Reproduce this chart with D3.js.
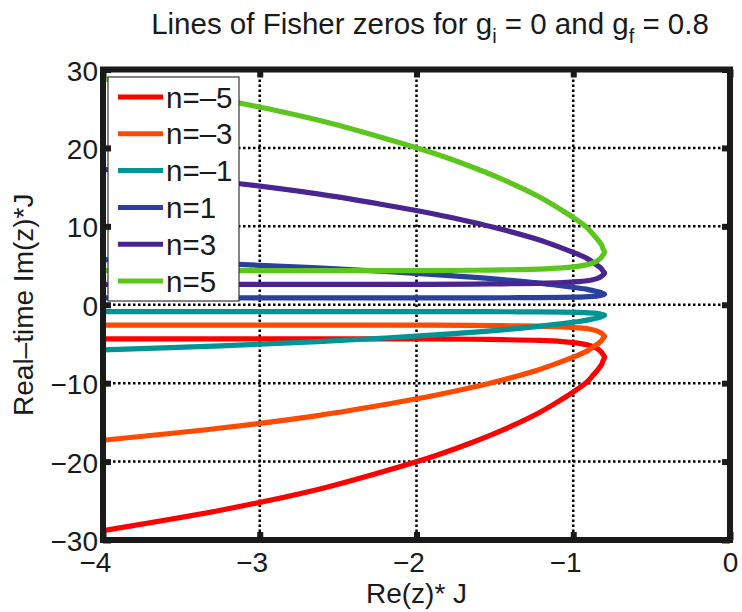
<!DOCTYPE html>
<html>
<head>
<meta charset="utf-8">
<script src="https://cdn.jsdelivr.net/npm/d3@7"></script>
<style>
  html, body { margin: 0; padding: 0; background: #fff; }
  svg { display: block; font-family: "Liberation Sans", Arial, Helvetica, sans-serif; }
</style>
</head>
<body>
<svg id="chart" width="742" height="612"></svg>
<script>
// Re(z)*J along each line of zeros (shared by all n, ordered along the curve)
const reZ = [-4.00, -3.25, -2.63, -2.20, -1.88, -1.65, -1.47, -1.23, -1.08, -0.98, -0.91, -0.87, -0.84, -0.82,
             -0.81, -0.80, -0.81, -0.82, -0.85, -0.90, -0.97, -1.07, -1.22, -1.45, -1.64, -1.93, -2.52, -4.00];

// Im(z)*J for each line n
const imNm5 = [-28.80, -26.20, -23.55, -21.20, -19.25, -17.60, -16.15, -13.90, -12.15, -10.85, -9.80, -8.90, -8.20, -7.65,
               -7.15, -6.70, -6.35, -6.05, -5.55, -5.15, -4.90, -4.70, -4.55, -4.45, -4.40, -4.35, -4.35, -4.35];
const imNm3 = [-17.28, -15.72, -14.13, -12.72, -11.55, -10.56, -9.69, -8.34, -7.29, -6.51, -5.88, -5.34, -4.92, -4.59,
               -4.29, -4.02, -3.81, -3.63, -3.33, -3.09, -2.94, -2.82, -2.73, -2.67, -2.64, -2.61, -2.61, -2.61];
const imNm1 = [-5.76, -5.24, -4.71, -4.24, -3.85, -3.52, -3.23, -2.78, -2.43, -2.17, -1.96, -1.78, -1.64, -1.53,
               -1.43, -1.34, -1.27, -1.21, -1.11, -1.03, -0.98, -0.94, -0.91, -0.89, -0.88, -0.87, -0.87, -0.87];
const imN1  = [5.76, 5.24, 4.71, 4.24, 3.85, 3.52, 3.23, 2.78, 2.43, 2.17, 1.96, 1.78, 1.64, 1.53,
               1.43, 1.34, 1.27, 1.21, 1.11, 1.03, 0.98, 0.94, 0.91, 0.89, 0.88, 0.87, 0.87, 0.87];
const imN3  = [17.28, 15.72, 14.13, 12.72, 11.55, 10.56, 9.69, 8.34, 7.29, 6.51, 5.88, 5.34, 4.92, 4.59,
               4.29, 4.02, 3.81, 3.63, 3.33, 3.09, 2.94, 2.82, 2.73, 2.67, 2.64, 2.61, 2.61, 2.61];
const imN5  = [28.80, 26.20, 23.55, 21.20, 19.25, 17.60, 16.15, 13.90, 12.15, 10.85, 9.80, 8.90, 8.20, 7.65,
               7.15, 6.70, 6.35, 6.05, 5.55, 5.15, 4.90, 4.70, 4.55, 4.45, 4.40, 4.35, 4.35, 4.35];

const seriesLabels = ["n=\u20135", "n=\u20133", "n=\u20131", "n=1", "n=3", "n=5"];
const seriesValues = [imNm5, imNm3, imNm1, imN1, imN3, imN5];
const seriesColors = ["#ff0000", "#ff4a00", "#009494", "#2b409e", "#4a2592", "#5cc61e"];

const xTicks = [-4, -3, -2, -1, 0];
const yTicks = [-30, -20, -10, 0, 10, 20, 30];

const plotLeft = 103, plotRight = 730, plotTop = 69.5, plotBottom = 540;
const svg = d3.select("#chart");
const x = d3.scaleLinear().domain([-4, 0]).range([plotLeft, plotRight]);
const y = d3.scaleLinear().domain([-30, 30]).range([plotBottom, plotTop]);
const fmt = d3.format("d");

svg.append("rect").attr("width", 742).attr("height", 612).attr("fill", "#fff");

svg.append("defs").append("clipPath").attr("id", "plotClip")
  .append("rect").attr("x", plotLeft).attr("y", plotTop)
  .attr("width", plotRight - plotLeft).attr("height", plotBottom - plotTop);

// dotted grid
const grid = svg.append("g").attr("stroke", "#000").attr("stroke-width", 2.5).attr("stroke-dasharray", "2.5,2.5");
grid.selectAll("line.gx").data(xTicks).join("line").attr("class", "gx")
  .attr("x1", d => x(d)).attr("x2", d => x(d)).attr("y1", plotTop).attr("y2", plotBottom);
grid.selectAll("line.gy").data(yTicks).join("line").attr("class", "gy")
  .attr("y1", d => y(d)).attr("y2", d => y(d)).attr("x1", plotLeft).attr("x2", plotRight);

// lines of zeros
const line = d3.line()
  .x((d, i) => x(reZ[i]))
  .y(d => y(d))
  .curve(d3.curveCatmullRom.alpha(0.5));

svg.append("g").attr("clip-path", "url(#plotClip)")
  .selectAll("path").data(seriesValues).join("path")
  .attr("d", d => line(d))
  .attr("fill", "none")
  .attr("stroke", (d, i) => seriesColors[i])
  .attr("stroke-width", 5.2)
  .attr("stroke-linejoin", "round");

// legend
const lg = svg.append("g");
lg.append("rect").attr("x", 108).attr("y", 77).attr("width", 131).attr("height", 224)
  .attr("fill", "#fff").attr("stroke", "#333").attr("stroke-width", 1.2);
const rows = lg.selectAll("g.row").data(seriesLabels).join("g").attr("class", "row")
  .attr("transform", (d, i) => `translate(0,${97 + i * 36.8})`);
rows.append("line").attr("x1", 118).attr("x2", 163).attr("y1", 0).attr("y2", 0)
  .attr("stroke", (d, i) => seriesColors[i]).attr("stroke-width", 5);
rows.append("text").attr("x", 166).attr("y", 10.5).attr("font-size", 29.5).attr("fill", "#1a1a1a")
  .text(d => d);

// axes: inward ticks on all four sides
const tickLen = 8;
function styleAxis(g) {
  g.select(".domain").remove();
  g.selectAll(".tick line").attr("stroke", "#1a1a1a").attr("stroke-width", 6);
}
svg.append("g").attr("transform", `translate(0,${plotBottom})`)
  .call(d3.axisBottom(x).tickValues(xTicks).tickFormat(fmt).tickSizeInner(-tickLen).tickSizeOuter(0))
  .call(styleAxis)
  .call(g => g.selectAll(".tick text")
    .attr("y", 32).attr("dy", null).attr("x", 7.8).attr("text-anchor", "end")
    .attr("font-size", 28).attr("fill", "#1a1a1a"));
svg.append("g").attr("transform", `translate(0,${plotTop})`)
  .call(d3.axisTop(x).tickValues(xTicks).tickFormat("").tickSizeInner(-tickLen).tickSizeOuter(0))
  .call(styleAxis);
svg.append("g").attr("transform", `translate(${plotLeft},0)`)
  .call(d3.axisLeft(y).tickValues(yTicks).tickFormat(fmt).tickSizeInner(-tickLen).tickSizeOuter(0))
  .call(styleAxis)
  .call(g => g.selectAll(".tick text")
    .attr("x", -5).attr("dy", "0.38em").attr("text-anchor", "end")
    .attr("font-size", 28).attr("fill", "#1a1a1a"));
svg.append("g").attr("transform", `translate(${plotRight},0)`)
  .call(d3.axisRight(y).tickValues(yTicks).tickFormat("").tickSizeInner(-tickLen).tickSizeOuter(0))
  .call(styleAxis);
svg.selectAll(".tick text").attr("font-family", "Liberation Sans, Arial, sans-serif");

// axes box
svg.append("rect").attr("x", plotLeft).attr("y", plotTop)
  .attr("width", plotRight - plotLeft).attr("height", plotBottom - plotTop)
  .attr("fill", "none").attr("stroke", "#1a1a1a").attr("stroke-width", 6);

// title with subscripts
const title = svg.append("text").attr("x", 430).attr("y", 34).attr("text-anchor", "middle")
  .attr("font-size", 29.5).attr("fill", "#1a1a1a");
title.append("tspan").text("Lines of Fisher zeros for g");
title.append("tspan").attr("dy", 9).attr("font-size", 20).text("i");
title.append("tspan").attr("dy", -9).text(" = 0 and g");
title.append("tspan").attr("dy", 9).attr("font-size", 20).text("f");
title.append("tspan").attr("dy", -9).text(" = 0.8");

// axis labels
svg.append("text").attr("x", (plotLeft + plotRight) / 2).attr("y", 603).attr("text-anchor", "middle")
  .attr("font-size", 28).attr("fill", "#1a1a1a").text("Re(z)* J");
svg.append("text").attr("transform", `translate(33,${(plotTop + plotBottom) / 2}) rotate(-90)`)
  .attr("text-anchor", "middle").attr("font-size", 28).attr("fill", "#1a1a1a")
  .text("Real\u2013time Im(z)*J");
</script>
</body>
</html>
